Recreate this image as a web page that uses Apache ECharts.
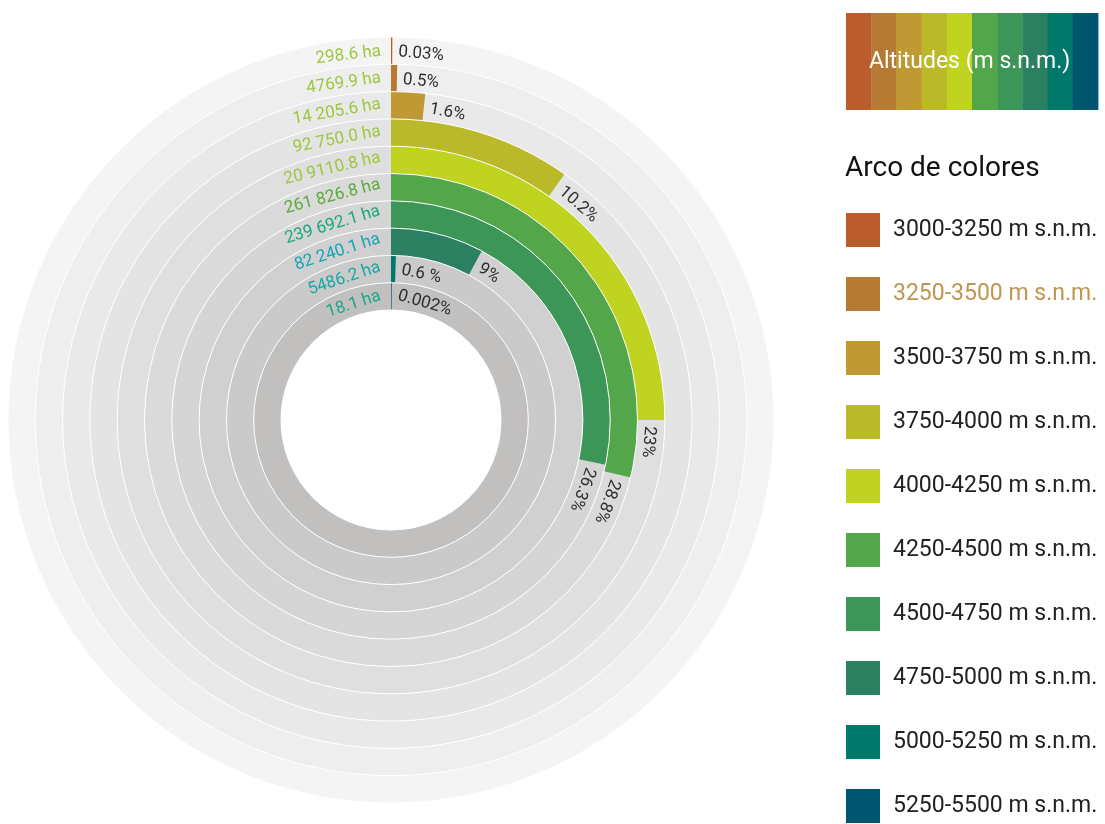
<!DOCTYPE html>
<html>
<head>
<meta charset="utf-8">
<script src="https://cdn.jsdelivr.net/npm/echarts@6/dist/echarts.min.js"></script>
<style>
  html, body { margin: 0; padding: 0; background: #fff; }
  #chart { width: 1105px; height: 824px; }
</style>
</head>
<body>
<div id="chart"></div>
<script>
// altitude ranges, outer ring first
const ranges = [
  '3000-3250 m s.n.m.', '3250-3500 m s.n.m.', '3500-3750 m s.n.m.', '3750-4000 m s.n.m.',
  '4000-4250 m s.n.m.', '4250-4500 m s.n.m.', '4500-4750 m s.n.m.', '4750-5000 m s.n.m.',
  '5000-5250 m s.n.m.', '5250-5500 m s.n.m.'
];
const hectares = [
  '298.6 ha', '4769.9 ha', '14 205.6 ha', '92 750.0 ha', '20 9110.8 ha',
  '261 826.8 ha', '239 692.1 ha', '82 240.1 ha', '5486.2 ha', '18.1 ha'
];
const percents = ['0.03%', '0.5%', '1.6%', '10.2%', '23%', '28.8%', '26.3%', '9%', '0.6 %', '0.002%'];
// angle swept by each arc in degrees (as drawn in the picture)
const arcDegrees = [0.2, 1.0, 6.0, 35.2, 90, 103.5, 101.8, 28.2, 1.7, 0.3];

const rangeColors = [
  '#bb5c2d', '#b57a33', '#bf9934', '#b9b929', '#c1d321',
  '#53a74a', '#3c9658', '#2c8062', '#00786b', '#00566f'
];
const haColors = [
  '#9dc73f', '#9dc73f', '#9dc73f', '#9dc73f', '#9dc73f',
  '#5aab3e', '#19a97f', '#12a6b6', '#15a8a3', '#18a98a'
];
const ringGrays = [
  '#f4f4f4', '#eeeeee', '#e9e9e9', '#e4e4e4', '#dfdfdf',
  '#dadada', '#d5d5d5', '#d0d0d0', '#cacaca', '#c1c0bf'
];

const FONT = 'Roboto, "Noto Sans", sans-serif';
const LABEL_SIZE = 17;

const chart = echarts.init(document.getElementById('chart'));

// measure text so the labels can follow their ring
const measureCtx = document.createElement('canvas').getContext('2d');
measureCtx.font = LABEL_SIZE + 'px ' + FONT;

const series = [];

// grey full rings behind everything
series.push({
  name: 'fondo',
  type: 'bar',
  coordinateSystem: 'polar',
  silent: true,
  barCategoryGap: '0%',
  barGap: '-100%',
  z: 1,
  data: ringGrays.map((c) => ({ value: 360, itemStyle: { color: c } }))
});

// one series per altitude range so the legend can list them
ranges.forEach((name, i) => {
  series.push({
    name: name,
    type: 'bar',
    coordinateSystem: 'polar',
    stack: 'alt',
    barCategoryGap: '0%',
    barGap: '-100%',
    z: 2,
    itemStyle: { color: rangeColors[i] },
    data: ranges.map((r, j) => (j === i ? arcDegrees[i] : '-'))
  });
});

// hectare labels on the left of the start line
series.push({
  name: 'ha',
  type: 'custom',
  coordinateSystem: 'polar',
  silent: true,
  z: 4,
  encode: { radius: 0, angle: 1 },
  data: ranges.map((r) => [r, 0]),
  renderItem: function (params, api) {
    const i = params.dataIndex;
    const cs = params.coordSys;
    const top = api.coord([api.value(0), 0]);
    const r = cs.cy - top[1] - 2;
    const w = measureCtx.measureText(hectares[i]).width;
    const phi = (10 + w / 2) / r;
    return {
      type: 'text',
      x: cs.cx - r * Math.sin(phi),
      y: cs.cy - r * Math.cos(phi),
      rotation: phi,
      style: {
        text: hectares[i],
        fill: haColors[i],
        font: LABEL_SIZE + 'px ' + FONT,
        align: 'center',
        verticalAlign: 'middle'
      }
    };
  }
});

// percentage labels just past the end of each arc
series.push({
  name: 'pct',
  type: 'custom',
  coordinateSystem: 'polar',
  silent: true,
  z: 4,
  encode: { radius: 0, angle: 1 },
  data: ranges.map((r, i) => [r, arcDegrees[i]]),
  renderItem: function (params, api) {
    const i = params.dataIndex;
    const cs = params.coordSys;
    const top = api.coord([api.value(0), 0]);
    const r = cs.cy - top[1] - 2;
    const end = api.coord([api.value(0), api.value(1)]);
    const theta = Math.atan2(end[0] - cs.cx, cs.cy - end[1]);
    const w = measureCtx.measureText(percents[i]).width;
    const a = theta + (6 + w / 2) / r;
    return {
      type: 'text',
      x: cs.cx + r * Math.sin(a),
      y: cs.cy - r * Math.cos(a),
      rotation: -a,
      style: {
        text: percents[i],
        fill: '#2e2e2e',
        font: LABEL_SIZE + 'px ' + FONT,
        align: 'center',
        verticalAlign: 'middle'
      }
    };
  }
});

// header strip with the altitude colours
const graphic = rangeColors.map((c, i) => ({
  type: 'rect',
  left: 846 + i * 25.2,
  top: 13,
  shape: { width: 25.6, height: 97 },
  style: { fill: c },
  silent: true
}));
graphic.push({
  type: 'text',
  left: 869,
  top: 51,
  style: { text: 'Altitudes (m s.n.m.)', fill: '#fff', font: '23px ' + FONT },
  silent: true
});

const option = {
  animation: false,
  title: {
    text: 'Arco de colores',
    left: 845,
    top: 155,
    padding: 0,
    textStyle: { fontSize: 28, fontWeight: 'normal', color: '#111', fontFamily: FONT }
  },
  legend: {
    orient: 'vertical',
    left: 846,
    top: 213,
    padding: 0,
    icon: 'rect',
    itemWidth: 34,
    itemHeight: 34,
    itemGap: 30,
    selectedMode: false,
    textStyle: { fontSize: 23, color: '#222', fontFamily: FONT, padding: [0, 0, 0, 8] },
    data: ranges.map((n, i) => (i === 1 ? { name: n, textStyle: { color: '#c0964f' } } : n))
  },
  polar: {
    center: [391, 420],
    radius: [110, 383]
  },
  angleAxis: {
    type: 'value',
    min: 0,
    max: 360,
    startAngle: 90,
    clockwise: true,
    axisLine: { show: false },
    axisTick: { show: false },
    axisLabel: { show: false },
    splitLine: { show: false }
  },
  radiusAxis: {
    type: 'category',
    data: ranges,
    inverse: true,
    z: 3,
    axisLine: { show: false },
    axisTick: { show: false, interval: 0 },
    axisLabel: { show: false, interval: 0 },
    splitLine: { show: true, interval: 0, lineStyle: { color: '#ffffff', width: 1 } }
  },
  graphic: graphic,
  series: series
};

chart.setOption(option);
</script>
</body>
</html>
